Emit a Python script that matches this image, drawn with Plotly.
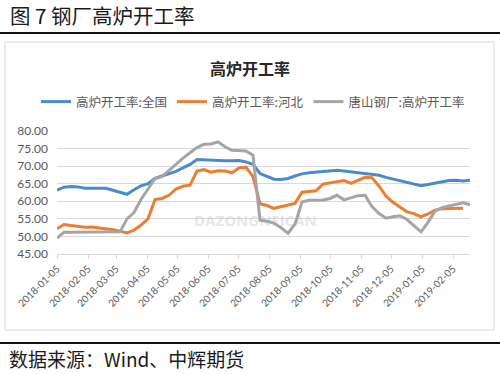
import plotly.graph_objects as go
import pandas as pd

# ---------------- data ----------------
dates = pd.date_range("2018-01-05", periods=60, freq="7D").strftime("%Y-%m-%d").tolist()

national = [63.2, 64.0, 64.2, 64.1, 63.7, 63.6, 63.7, 63.7, 63.2, 62.7,
            62.0, 63.3, 64.4, 65.0, 66.5, 67.2, 67.9, 68.5, 69.5, 70.5,
            71.9, 71.8, 71.5, 71.6, 71.5, 71.5, 71.6, 71.2, 70.5, 67.9,
            67.0, 66.3, 66.2, 66.5, 67.2, 67.8, 68.1, 68.3, 68.4, 68.6,
            68.8, 68.6, 68.4, 68.2, 67.9, 67.8, 67.4, 66.8, 66.3, 65.8,
            65.5, 65.0, 64.4, 64.8, 65.2, 65.5, 65.9, 66.0, 65.8, 66.0]

hebei = [52.2, 53.4, 53.1, 52.8, 52.6, 52.7, 52.5, 52.2, 51.9, 51.5,
         51.0, 51.8, 53.2, 55.0, 60.5, 60.8, 61.7, 63.5, 64.3, 64.6,
         68.6, 69.0, 68.3, 68.7, 68.6, 68.1, 69.5, 69.7, 67.0, 59.3,
         58.8, 58.0, 58.5, 59.0, 59.4, 62.6, 62.8, 63.0, 64.9, 65.2,
         65.5, 65.9, 65.1, 66.0, 66.8, 66.7, 64.3, 61.5, 59.7, 58.4,
         57.0, 56.5, 55.6, 56.4, 57.5, 57.9, 58.0, 58.0, 58.0]

tangshan = [49.5, 51.2, 51.2, 51.2, 51.2, 51.2, 51.2, 51.2, 51.2, 51.3,
            55.0, 56.8, 60.5, 63.5, 66.5, 67.0, 68.8, 70.5, 72.3, 73.8,
            75.3, 76.2, 76.3, 76.9, 75.5, 74.5, 74.4, 74.3, 73.1, 54.6,
            54.3, 53.8, 52.5, 50.9, 53.5, 59.8, 60.3, 60.4, 60.4, 60.8,
            61.7, 60.4, 61.0, 61.6, 61.7, 58.5, 56.5, 55.2, 55.6, 55.9,
            54.8, 53.0, 51.3, 54.0, 57.2, 58.2, 58.6, 59.1, 59.6, 59.0]

series_names = ["高炉开工率:全国", "高炉开工率:河北", "唐山钢厂:高炉开工率"]
series_colors = ["#4A8CCB", "#ED7D31", "#A5A5A5"]

tick_vals = ["2018-01-05", "2018-02-05", "2018-03-05", "2018-04-05", "2018-05-05",
             "2018-06-05", "2018-07-05", "2018-08-05", "2018-09-05", "2018-10-05",
             "2018-11-05", "2018-12-05", "2019-01-05", "2019-02-05"]
y_ticks = [45, 50, 55, 60, 65, 70, 75, 80]

fig_title = "图 7 钢厂高炉开工率"
chart_title = "高炉开工率"
source_text = "数据来源：Wind、中辉期货"
watermark = "DAZONGNEICAN"

# ---------------- layout geometry (pixels) ----------------
W, H = 500, 374
L, R, T, B = 57, 470, 131, 254


def xp(px):
    return (px - L) / (R - L)


def yp(py):
    return (B - py) / (B - T)


CJK = "Noto Sans CJK SC"
NUM = "Lato"

fig = go.Figure()
for name, ys, col in zip(series_names, [national, hebei, tangshan], series_colors):
    fig.add_trace(go.Scatter(
        x=dates[:len(ys)], y=ys, mode="lines", name=name,
        line=dict(color=col, width=3),
    ))

fig.update_layout(
    width=W, height=H,
    margin=dict(l=L, r=W - R, t=T, b=H - B, pad=0),
    paper_bgcolor="white", plot_bgcolor="white",
    showlegend=True,
    legend=dict(
        orientation="h", x=xp(36), xanchor="left", y=yp(102), yanchor="middle",
        font=dict(family=CJK, size=12.5, color="#595959"),
        bgcolor="rgba(0,0,0,0)", itemwidth=30, tracegroupgap=0,
    ),
    xaxis=dict(
        type="date", range=["2018-01-05", "2019-02-22"],
        tickmode="array", tickvals=tick_vals, ticktext=tick_vals,
        tickangle=-45, tickfont=dict(family=NUM, size=10, color="#595959"),
        ticks="outside", ticklen=4, tickcolor="#d9d9d9",
        showline=True, linecolor="#d9d9d9", linewidth=1,
        showgrid=False, zeroline=False,
    ),
    yaxis=dict(
        range=[45, 80], tickmode="array", tickvals=y_ticks,
        tickformat=".2f", tickfont=dict(family=NUM, size=12, color="#595959"),
        showgrid=True, gridcolor="#d9d9d9", gridwidth=1,
        showline=False, zeroline=False, ticks="", ticklabelstandoff=8,
    ),
)

shapes = [
    # chart frame
    dict(type="rect", xref="paper", yref="paper", x0=xp(5), x1=xp(494), y0=yp(330), y1=yp(42),
         line=dict(color="#d9d9d9", width=1), fillcolor="rgba(0,0,0,0)", layer="below"),
    # top rule
    dict(type="line", xref="paper", yref="paper", x0=xp(0), x1=xp(500), y0=yp(33), y1=yp(33),
         line=dict(color="#111111", width=2)),
    # bottom rule
    dict(type="line", xref="paper", yref="paper", x0=xp(0), x1=xp(500), y0=yp(343), y1=yp(343),
         line=dict(color="#111111", width=2)),
]
fig.update_layout(shapes=shapes)

annotations = [
    dict(text="<b>" + watermark + "</b>", xref="paper", yref="paper", x=xp(255), y=yp(232),
         showarrow=False, font=dict(family="Open Sans", size=15, color="rgba(170,170,170,0.28)")),
    dict(text=fig_title, xref="paper", yref="paper", x=xp(8), y=yp(15),
         xanchor="left", yanchor="middle", showarrow=False,
         font=dict(family=CJK, size=20.5, color="#1a1a1a")),
    dict(text="<b>" + chart_title + "</b>", xref="paper", yref="paper", x=xp(250), y=yp(68),
         xanchor="center", yanchor="middle", showarrow=False,
         font=dict(family=CJK, size=16, color="#262626")),
    dict(text=source_text, xref="paper", yref="paper", x=xp(7), y=yp(358.5),
         xanchor="left", yanchor="middle", showarrow=False,
         font=dict(family=CJK, size=19, color="#1a1a1a")),
]
fig.update_layout(annotations=annotations)

fig.write_html("out.html", config={"displayModeBar": False},
               post_script="document.body.style.margin='0';")
